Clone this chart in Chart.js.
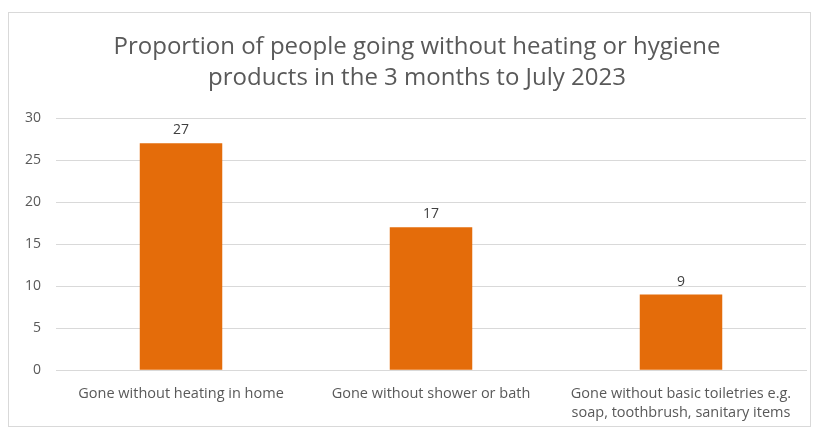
<!DOCTYPE html>
<html>
<head>
<meta charset="utf-8">
<script src="https://cdn.jsdelivr.net/npm/chart.js@4"></script>
<style>
  html, body { margin: 0; padding: 0; background: #ffffff; }
  #frame { position: absolute; left: 8px; top: 12px; width: 803px; height: 415px; border: 1px solid #d9d9d9; box-sizing: border-box; }
  #wrap { position: absolute; left: 0; top: 0; width: 814px; height: 432px; }
</style>
</head>
<body>
<div id="frame"></div>
<div id="wrap"><canvas id="c" width="814" height="432"></canvas></div>
<script>
const categories = [
  'Gone without heating in home',
  'Gone without shower or bath',
  ['Gone without basic toiletries e.g.', 'soap, toothbrush, sanitary items']
];
const percentages = [27, 17, 9];
const titleLines = [
  'Proportion of people going without heating or hygiene',
  'products in the 3 months to July 2023'
];

const FONT = "'Open Sans', 'Liberation Sans', sans-serif";

// Two-line heading, centred over the frame
const heading = {
  id: 'heading',
  afterDraw(chart) {
    const ctx = chart.ctx;
    ctx.save();
    ctx.fillStyle = '#595959';
    ctx.font = '24px ' + FONT;
    ctx.textAlign = 'center';
    ctx.textBaseline = 'middle';
    const cx = chart.width / 2 + 10;
    titleLines.forEach((line, i) => ctx.fillText(line, cx, 47 + i * 31));
    ctx.restore();
  }
};

// Writes each bar's value just above it
const valueLabels = {
  id: 'valueLabels',
  afterDatasetsDraw(chart) {
    const ctx = chart.ctx;
    ctx.save();
    ctx.fillStyle = '#404040';
    ctx.font = '14px ' + FONT;
    ctx.textAlign = 'center';
    ctx.textBaseline = 'bottom';
    chart.getDatasetMeta(0).data.forEach((bar, i) => {
      ctx.fillText(String(percentages[i]), bar.x, bar.y - 6);
    });
    ctx.restore();
  }
};

new Chart(document.getElementById('c'), {
  type: 'bar',
  data: {
    labels: categories,
    datasets: [{
      data: percentages,
      backgroundColor: '#E46C0A',
      borderWidth: 0,
      barPercentage: 0.66,
      categoryPercentage: 0.5
    }]
  },
  options: {
    responsive: false,
    animation: false,
    layout: { padding: { left: 10, right: 8, top: 118, bottom: -4 } },
    plugins: {
      legend: { display: false },
      tooltip: { enabled: false },
      title: { display: false }
    },
    scales: {
      x: {
        grid: { display: false, drawTicks: false },
        border: { color: '#d9d9d9' },
        ticks: {
          color: '#595959',
          font: { family: FONT, size: 14.5, lineHeight: 1.3 },
          padding: 14,
          maxRotation: 0,
          autoSkip: false
        }
      },
      y: {
        min: 0,
        max: 30,
        ticks: {
          stepSize: 5,
          color: '#595959',
          font: { family: FONT, size: 14 },
          padding: 15
        },
        grid: { color: '#d9d9d9', drawTicks: false },
        border: { display: false }
      }
    }
  },
  plugins: [valueLabels, heading]
});
</script>
</body>
</html>
